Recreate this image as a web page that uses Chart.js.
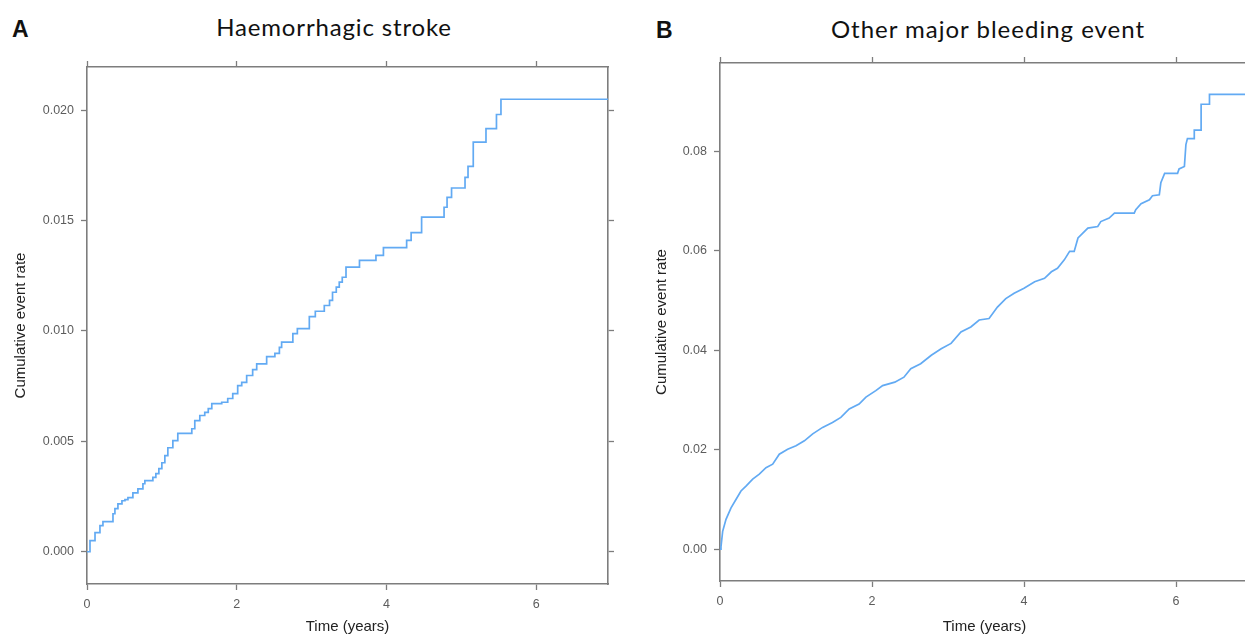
<!DOCTYPE html>
<html>
<head>
<meta charset="utf-8">
<title>Cumulative event rate</title>
<script src="https://cdn.jsdelivr.net/npm/chart.js@4/dist/chart.umd.min.js"></script>
<style>
  html, body { margin: 0; padding: 0; background: #fff; }
  body { width: 1245px; height: 634px; overflow: hidden; position: relative; }
  canvas { position: absolute; top: 0; }
  .letra { position: absolute; font: bold 23px "Liberation Sans", Arial, sans-serif; line-height: 1; color: #111; }
  .titulo { position: absolute; font: 24px Lato, "Open Sans", sans-serif; line-height: 1; color: #111; white-space: nowrap; transform: translateX(-50%); }
</style>
</head>
<body>
<div class="letra" style="left:12px; top:18px;">A</div>
<div class="titulo" style="left:334px; top:15px; letter-spacing:0.85px;">Haemorrhagic stroke</div>
<div class="letra" style="left:656px; top:19px;">B</div>
<div class="titulo" style="left:988px; top:17px; letter-spacing:1px;">Other major bleeding event</div>
<canvas id="panelA" width="625" height="640" style="left:0; width:625px; height:640px;"></canvas>
<canvas id="panelB" width="640" height="640" style="left:625px; width:640px; height:640px;"></canvas>
<script>
// tiempos (años) y tasa acumulada
const strokeTimes = [0, 0.04, 0.107, 0.173, 0.213, 0.347, 0.373, 0.413, 0.467, 0.507, 0.547, 0.613, 0.68, 0.747, 0.773,
  0.88, 0.92, 0.96, 1.0, 1.04, 1.08, 1.147, 1.213, 1.40, 1.44, 1.507, 1.573, 1.62, 1.667, 1.80, 1.88, 1.947, 2.013,
  2.067, 2.133, 2.213, 2.267, 2.40, 2.51, 2.57, 2.60, 2.75, 2.81, 2.97, 3.05, 3.17, 3.24, 3.28, 3.33, 3.37, 3.41, 3.46,
  3.64, 3.86, 3.96, 4.27, 4.33, 4.47, 4.77, 4.81, 4.87, 5.05, 5.09, 5.16, 5.33, 5.47, 5.53, 6.96];
const strokeRates = [0, 0.0005, 0.00087, 0.00118, 0.00136, 0.00172, 0.00195, 0.00217, 0.00231, 0.00236, 0.00245, 0.00267, 0.00285, 0.00308, 0.00322,
  0.00337, 0.00354, 0.00376, 0.00403, 0.00435, 0.00471, 0.00503, 0.00536, 0.00557, 0.00594, 0.00617, 0.00631, 0.00648, 0.00671, 0.00677, 0.00694, 0.00716, 0.00752,
  0.00767, 0.00798, 0.00825, 0.00851, 0.00884, 0.00898, 0.00925, 0.00949, 0.00988, 0.0101, 0.01065, 0.01089, 0.01115, 0.01138, 0.01175, 0.01198, 0.01221, 0.01243, 0.01289,
  0.01319, 0.01342, 0.01377, 0.0141, 0.01445, 0.01515, 0.0156, 0.01605, 0.01647, 0.01695, 0.01745, 0.01855, 0.01916, 0.0198, 0.02049, 0.02049];

const bleedTimes = [0, 0.013, 0.035, 0.079, 0.145, 0.21, 0.276, 0.342, 0.43, 0.517, 0.605, 0.693, 0.78, 0.89, 1.0, 1.11,
  1.22, 1.35, 1.48, 1.59, 1.70, 1.83, 1.92, 2.05, 2.14, 2.30, 2.42, 2.51, 2.64, 2.78, 2.91, 3.04, 3.17, 3.30, 3.41,
  3.54, 3.65, 3.76, 3.87, 4.0, 4.14, 4.27, 4.36, 4.44, 4.53, 4.60, 4.66, 4.71, 4.84, 4.97, 5.01, 5.12, 5.19, 5.45,
  5.47, 5.54, 5.65, 5.69, 5.78, 5.80, 5.85, 6.02, 6.04, 6.11, 6.13, 6.15, 6.24, 6.24, 6.33, 6.33, 6.44, 6.44, 6.96];
const bleedRates = [0, 0.0005, 0.0036, 0.006, 0.0083, 0.010, 0.0117, 0.0127, 0.0141, 0.0151, 0.0164, 0.0171, 0.0191, 0.0201, 0.0208, 0.0218,
  0.0232, 0.0245, 0.0255, 0.0265, 0.0282, 0.0292, 0.0306, 0.0319, 0.0329, 0.0336, 0.0346, 0.0363, 0.0373, 0.039, 0.0403, 0.0414, 0.0437, 0.0447, 0.0461,
  0.0464, 0.0487, 0.0504, 0.0515, 0.0525, 0.0538, 0.0545, 0.0558, 0.0565, 0.0582, 0.0599, 0.0599, 0.0626, 0.0646, 0.0649, 0.0659, 0.0666, 0.0676, 0.0676,
  0.0683, 0.0695, 0.0703, 0.0711, 0.0713, 0.0737, 0.0756, 0.0756, 0.0765, 0.0770, 0.0814, 0.0826, 0.0826, 0.0843, 0.0843, 0.0895, 0.0895, 0.0915, 0.0915];

// marcas de los ejes
const timeTicks = [0, 2, 4, 6];
const strokeTicks = [0, 0.005, 0.010, 0.015, 0.020];
const bleedTicks = [0, 0.02, 0.04, 0.06, 0.08];

Chart.defaults.font.family = '"Liberation Sans", Arial, sans-serif';
Chart.defaults.animation = false;

dibujarPanel('panelA', strokeTimes, strokeRates, true, {
    yMin: -0.00146, yMax: 0.02195, yTicks: strokeTicks, decimals: 3,
    padLeft: 12, left: 75, right: 17, top: 67, bottom: 56
});

dibujarPanel('panelB', bleedTimes, bleedRates, false, {
    yMin: -0.0064, yMax: 0.0978, yTicks: bleedTicks, decimals: 2,
    padLeft: 28, left: 67, right: 16, top: 63, bottom: 59
});

function dibujarPanel(id, times, rates, escalones, cfg) {
    let puntos = [];
    for (let i = 0; i < times.length; i++) {
        puntos.push({ x: times[i], y: rates[i] });
    }

    const gris = '#7d7d7d';
    // marcas hacia fuera, sin rejilla dentro del area
    function eje(extra) {
        return Object.assign({
            type: 'linear',
            grid: { drawOnChartArea: false, drawTicks: true, tickLength: 6, color: gris, tickWidth: 1.3 },
            border: { display: true, color: gris, width: 1.6 }
        }, extra);
    }
    function fijarMarcas(valores) {
        return function (scale) {
            scale.ticks = valores.map(v => ({ value: v }));
        };
    }
    function ancho(w) { return function (scale) { scale.width = w; }; }
    function alto(h) { return function (scale) { scale.height = h; }; }

    const tickFont = { size: 12.5 };
    const titleFont = { size: 15 };

    new Chart(document.getElementById(id), {
        type: 'line',
        data: {
            datasets: [{
                data: puntos,
                stepped: escalones,
                borderColor: '#62aaf3',
                borderWidth: 1.7,
                pointRadius: 0,
                fill: false,
                tension: 0
            }]
        },
        options: {
            responsive: false,
            devicePixelRatio: 1,
            layout: { padding: { left: cfg.padLeft, right: 0, top: 0, bottom: 0 } },
            plugins: { legend: { display: false }, tooltip: { enabled: false } },
            scales: {
                x: eje({
                    position: 'bottom', min: 0, max: 6.96,
                    afterBuildTicks: fijarMarcas(timeTicks), afterFit: alto(cfg.bottom),
                    ticks: { font: tickFont, color: '#5c5c5c', padding: 7, maxRotation: 0, callback: v => String(v) },
                    title: { display: true, text: 'Time (years)', font: titleFont, color: '#222', padding: { top: 0, bottom: 4 } }
                }),
                x2: eje({
                    position: 'top', min: 0, max: 6.96,
                    afterBuildTicks: fijarMarcas(timeTicks), afterFit: alto(cfg.top),
                    ticks: { display: false }
                }),
                y: eje({
                    position: 'left', min: cfg.yMin, max: cfg.yMax,
                    afterBuildTicks: fijarMarcas(cfg.yTicks), afterFit: ancho(cfg.left),
                    ticks: { font: tickFont, color: '#5c5c5c', padding: 7, callback: v => Number(v).toFixed(cfg.decimals) },
                    title: { display: true, text: 'Cumulative event rate', font: titleFont, color: '#222', padding: { top: 0, bottom: 0 } }
                }),
                y2: eje({
                    position: 'right', min: cfg.yMin, max: cfg.yMax,
                    afterBuildTicks: fijarMarcas(cfg.yTicks), afterFit: ancho(cfg.right),
                    ticks: { display: false }
                })
            }
        }
    });
}
</script>
</body>
</html>
